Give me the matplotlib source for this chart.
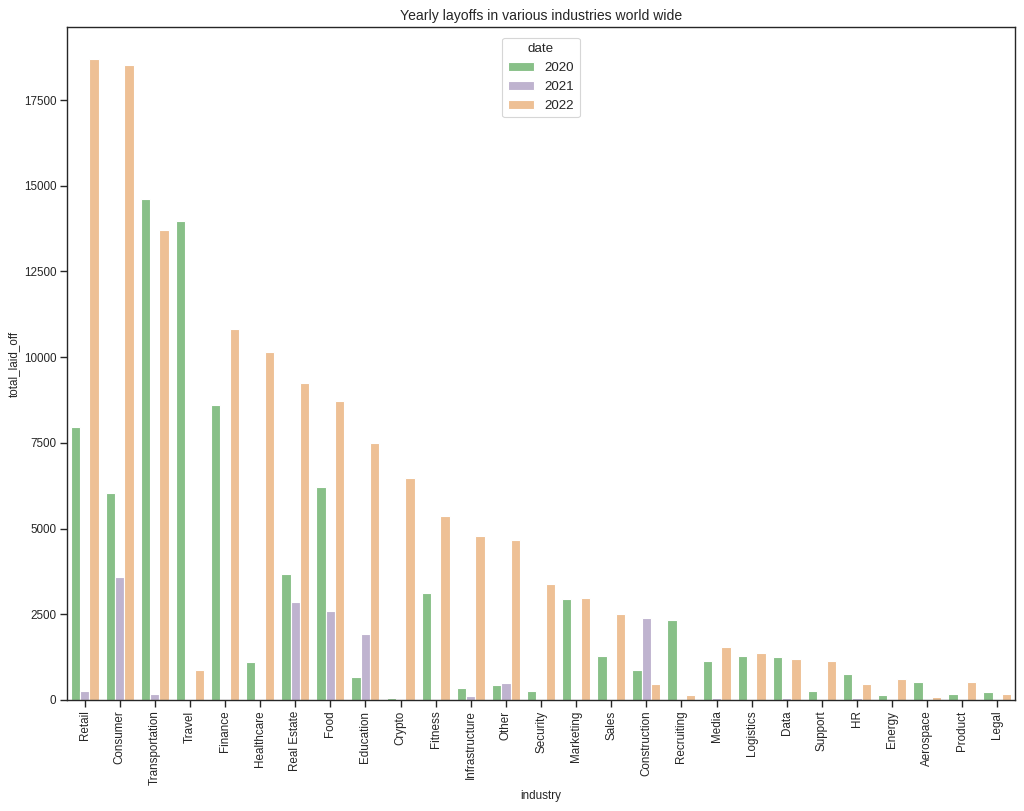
import matplotlib
matplotlib.use("Agg")
import matplotlib.pyplot as plt
import seaborn as sns
import numpy as np
import pandas as pd

industries = ["Retail", "Consumer", "Transportation", "Travel", "Finance", "Healthcare",
              "Real Estate", "Food", "Education", "Crypto", "Fitness", "Infrastructure",
              "Other", "Security", "Marketing", "Sales", "Construction", "Recruiting",
              "Media", "Logistics", "Data", "Support", "HR", "Energy", "Aerospace",
              "Product", "Legal"]
years = ["2020", "2021", "2022"]
nan = np.nan
laid_2020 = [7966, 6031, 14628, 13968, 8599, 1100, 3677, 6206, 662, 58, 3113, 360,
             428, 253, 2937, 1274, 866, 2344, 1125, 1274, 1255, 253, 749, 136, 535, 185, 233]
laid_2021 = [263, 3580, 185, nan, nan, nan, 2860, 2606, 1916, nan, nan, 126,
             486, nan, nan, nan, 2403, nan, 58, nan, 58, nan, 58, nan, nan, nan, nan]
laid_2022 = [18696, 18520, 13715, 875, 10826, 10146, 9250, 8734, 7490, 6488, 5369, 4795,
             4669, 3395, 2986, 2510, 457, 156, 1537, 1381, 1196, 1128, 457, 613, 88, 516, 185]

rows = []
for yr, vals in zip(years, [laid_2020, laid_2021, laid_2022]):
    for ind, v in zip(industries, vals):
        rows.append({"industry": ind, "date": yr, "total_laid_off": v})
df = pd.DataFrame(rows)

sns.set_theme(style="ticks")
plt.rcParams['font.family'] = ['Liberation Sans', 'DejaVu Sans']

fig = plt.figure(figsize=(12.8, 10.1375), dpi=80)
ax = fig.add_axes([67/1024, 1 - 700/811, 948/1024, 673/811])
sns.barplot(data=df, x="industry", y="total_laid_off", hue="date",
            order=industries, hue_order=years, palette="Accent", ax=ax)
ax.set_title("Yearly layoffs in various industries world wide", fontsize=12.6)
ax.set_xlabel("industry", fontsize=10.5)
ax.set_ylabel("total_laid_off", fontsize=10.5)
ax.tick_params(axis='x', labelrotation=90, labelsize=10.5)
ax.tick_params(axis='y', labelsize=10.5)
sns.move_legend(ax, loc="upper center", bbox_to_anchor=(0.5, 0.994),
                title="date", fontsize=12, title_fontsize=12)
fig.savefig("out.png", dpi=80)
